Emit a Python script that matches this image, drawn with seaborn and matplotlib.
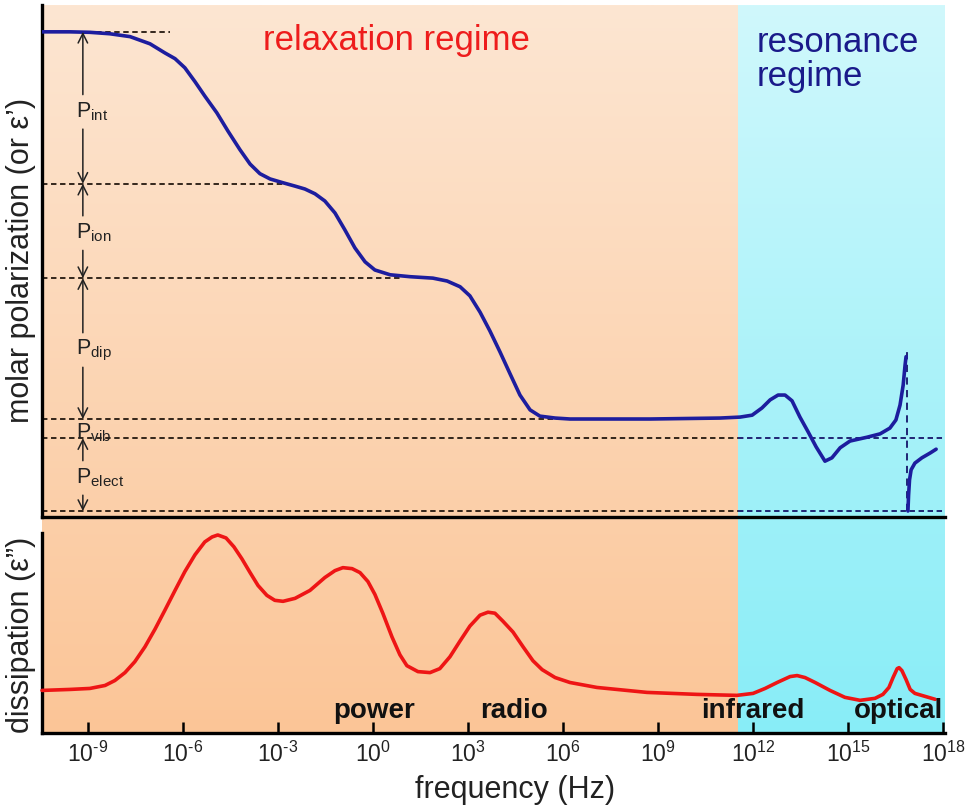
import numpy as np
import matplotlib
matplotlib.use("Agg")
import matplotlib.pyplot as plt
from matplotlib.colors import to_rgb
import seaborn as sns

# polarization curve, x = log10(frequency / Hz), y = polarization (0..100)
pol_logf = [-10.45, -9.57, -8.94, -8.31, -7.67, -7.04, -6.57, -6.25, -5.94, -5.62,
            -5.31, -4.93, -4.58, -4.20, -3.88, -3.57, -3.25, -2.84, -2.46, -2.15,
            -1.83, -1.52, -1.20, -0.89, -0.57, -0.25, 0.06, 0.54, 1.17, 1.89,
            2.34, 2.75, 3.06, 3.38, 3.69, 4.01, 4.33, 4.64, 4.96, 5.27,
            5.75, 6.22, 8.75, 10.96, 11.59, 11.97, 12.28, 12.54, 12.79, 13.01,
            13.23, 13.48, 13.74, 13.99, 14.27, 14.49, 14.75, 15.06, 15.60, 16.01,
            16.32, 16.51, 16.64, 16.74, 16.80, 16.83]
pol_val = [100.0, 100.0, 99.9, 99.6, 99.0, 97.5, 95.6, 94.4, 92.5, 89.6,
           86.6, 83.1, 79.3, 75.4, 72.4, 70.4, 69.3, 68.5, 67.8, 67.2,
           66.2, 64.7, 62.2, 58.7, 54.9, 52.0, 50.3, 49.3, 48.9, 48.6,
           48.0, 46.8, 44.9, 41.5, 37.6, 33.2, 28.6, 24.2, 21.1, 19.8,
           19.4, 19.2, 19.2, 19.4, 19.6, 20.0, 21.5, 23.2, 24.2, 24.2,
           23.0, 19.6, 16.5, 13.4, 10.4, 11.1, 13.2, 14.6, 15.4, 16.1,
           17.3, 19.0, 22.1, 26.3, 30.5, 32.2]
# branch after the optical resonance
pol2_logf = [16.89, 16.91, 16.94, 16.99, 17.11, 17.33, 17.59, 17.78]
pol2_val = [0.0, 3.3, 6.5, 8.6, 10.0, 11.1, 12.1, 12.9]

# dissipation curve (0..100)
dis_logf = [-10.45, -9.57, -8.94, -8.46, -8.15, -7.83, -7.52, -7.20, -6.88, -6.57,
            -6.25, -5.94, -5.62, -5.31, -5.08, -4.90, -4.64, -4.39, -4.14, -3.88,
            -3.63, -3.35, -3.10, -2.84, -2.46, -1.99, -1.52, -1.20, -0.95, -0.66,
            -0.41, -0.16, 0.06, 0.31, 0.60, 0.85, 1.07, 1.42, 1.80, 2.11,
            2.43, 2.75, 3.06, 3.38, 3.63, 3.85, 4.10, 4.42, 4.74, 5.05,
            5.34, 5.75, 6.22, 7.07, 8.65, 10.23, 11.49, 12.00, 12.38, 12.76,
            13.17, 13.39, 13.64, 13.96, 14.43, 14.90, 15.38, 15.85, 16.10, 16.29,
            16.42, 16.55, 16.61, 16.70, 16.83, 16.96, 17.11, 17.43, 17.75]
dis_val = [21.5, 22.0, 22.5, 24.0, 26.5, 30.5, 36.0, 43.5, 52.5, 62.0,
           72.0, 81.5, 90.0, 96.5, 99.0, 100.0, 98.5, 94.0, 88.0, 81.0,
           74.5, 69.5, 67.0, 66.5, 68.0, 72.0, 78.5, 82.0, 83.5, 83.0,
           81.0, 76.5, 70.0, 60.5, 48.5, 39.5, 34.0, 31.0, 30.5, 32.5,
           38.5, 46.5, 54.0, 59.5, 61.0, 60.5, 56.5, 51.0, 43.5, 36.5,
           32.0, 28.0, 25.5, 23.0, 20.5, 19.5, 19.0, 20.0, 22.5, 25.5,
           28.5, 29.0, 28.0, 25.5, 21.5, 18.0, 16.5, 17.5, 19.5, 23.0,
           28.0, 32.5, 33.0, 31.5, 27.0, 22.0, 20.0, 18.5, 17.0]

# contribution levels and labels
levels = [100.0, 68.3, 48.6, 19.2, 15.2, 0.0]
level_ends = [-6.41, -2.84, 0.95, 6.22, 18.06, 18.06]
p_names = ["int", "ion", "dip", "vib", "elect"]
p_centers = [83.3, 58.0, 33.6, 16.3, 6.9]

band_names = ["power", "radio", "infrared", "optical"]
band_pos = [0.03, 4.45, 12.0, 16.58]
tick_exp = [-9, -6, -3, 0, 3, 6, 9, 12, 15, 18]

x_min, x_max, x_split = -10.45, 18.06, 11.53
orange_top, orange_bottom = "#fde6d2", "#fbc597"
cyan_top, cyan_bottom = "#d0f8fc", "#88edf7"
blue, red = "#1d1d9e", "#ee1515"

sns.set_style("white")
plt.rcParams["font.family"] = ["Liberation Sans", "DejaVu Sans"]
plt.rcParams["mathtext.fontset"] = "custom"
plt.rcParams["mathtext.rm"] = "Liberation Sans"
plt.rcParams["mathtext.it"] = "Liberation Sans:italic"
plt.rcParams["mathtext.bf"] = "Liberation Sans:bold"

fig = plt.figure(figsize=(9.8, 8.11), dpi=100)
W, H = 980.0, 811.0
bg = fig.add_axes([42 / W, (H - 733) / H, 903 / W, 728 / H], zorder=0)
ax1 = fig.add_axes([42 / W, (H - 517) / H, 903 / W, 512 / H], zorder=2)
ax2 = fig.add_axes([42 / W, (H - 733) / H, 903 / W, 200 / H], zorder=2)


def gradient(c_top, c_bot, n=256):
    t = np.linspace(0, 1, n)[:, None, None]
    a, b = np.array(to_rgb(c_top)), np.array(to_rgb(c_bot))
    return a[None, None, :] * (1 - t) + b[None, None, :] * t


bg.imshow(gradient(orange_top, orange_bottom), extent=(x_min, x_split, 0, 1),
          aspect="auto", interpolation="bilinear")
bg.imshow(gradient(cyan_top, cyan_bottom), extent=(x_split, x_max, 0, 1),
          aspect="auto", interpolation="bilinear")
bg.set_xlim(x_min, x_max)
bg.set_ylim(0, 1)
bg.axis("off")

for ax in (ax1, ax2):
    ax.patch.set_alpha(0)
    ax.set_xscale("log")
    ax.set_xlim(10.0 ** x_min, 10.0 ** x_max)
    for s in ("top", "right"):
        ax.spines[s].set_visible(False)
    for s in ("left", "bottom"):
        ax.spines[s].set_linewidth(2.4)
        ax.spines[s].set_color("black")
    ax.set_yticks([])
    ax.minorticks_off()

# --- top panel ---
ax1.set_ylim(-1.25, 105.6)
ax1.set_xticks([])
ax1.tick_params(axis="x", which="both", bottom=False, labelbottom=False)

dash = (0, (3, 2))
for lev, xe in zip(levels, level_ends):
    if xe > x_split:
        ax1.hlines(lev, 10.0 ** x_min, 10.0 ** x_split, colors="#24180f",
                   linestyles=dash, lw=1.3, zorder=1)
        ax1.hlines(lev, 10.0 ** x_split, 10.0 ** xe, colors="#15156a",
                   linestyles=dash, lw=1.3, zorder=1)
    else:
        ax1.hlines(lev, 10.0 ** x_min, 10.0 ** xe, colors="#24180f",
                   linestyles=dash, lw=1.3, zorder=1)

# vertical dashed line at the optical resonance
ax1.vlines(10.0 ** 16.86, 0, 34.2, colors="#15156a", linestyles=(0, (4, 3)),
           lw=1.3, zorder=1)

sns.lineplot(x=10.0 ** np.array(pol_logf), y=pol_val, ax=ax1, color=blue,
             lw=2.6, sort=False, estimator=None, zorder=3)
sns.lineplot(x=10.0 ** np.array(pol2_logf), y=pol2_val, ax=ax1, color=blue,
             lw=2.6, sort=False, estimator=None, zorder=3)
for ln in ax1.lines:
    ln.set_solid_joinstyle("round")
    ln.set_solid_capstyle("round")

arrow_x = 10.0 ** -9.16
label_x = 10.0 ** -9.38
gap = 3.6
for i, (name, yc) in enumerate(zip(p_names, p_centers)):
    ax1.text(label_x, yc, "P$_{\\mathrm{%s}}$" % name, fontsize=15.5,
             color="#222222", ha="left", va="center", zorder=4)
    if name == "vib":
        continue
    hi, lo = levels[i], levels[i + 1]
    if name == "elect":
        hi, lo = levels[4], levels[5]
    for end, start in ((hi, yc + gap), (lo, yc - gap)):
        ax1.annotate("", xy=(arrow_x, end), xytext=(arrow_x, start),
                     arrowprops=dict(arrowstyle="->", color="#222222", lw=1.1,
                                     shrinkA=0, shrinkB=0, mutation_scale=17))

ax1.text(10.0 ** 0.73, 96.2, "relaxation regime", color="#ee1c1c",
         fontsize=25, ha="center", va="baseline")
ax1.text(10.0 ** 12.12, 95.8, "resonance", color="#1a1a8a",
         fontsize=25, ha="left", va="baseline")
ax1.text(10.0 ** 12.12, 88.7, "regime", color="#1a1a8a",
         fontsize=25, ha="left", va="baseline")

# --- bottom panel ---
ax2.set_ylim(0, 101)
sns.lineplot(x=10.0 ** np.array(dis_logf), y=dis_val, ax=ax2, color=red,
             lw=2.6, sort=False, estimator=None, zorder=3)
ax2.lines[-1].set_clip_on(False)
ax2.lines[-1].set_solid_joinstyle("round")
ax2.set_xticks([10.0 ** e for e in tick_exp])
ax2.set_xticklabels([r"$\mathregular{10^{%s}}$" % str(e).replace("-", "\u2010")
                     for e in tick_exp])
ax2.tick_params(axis="x", which="major", direction="in", length=8, width=1.8,
                labelsize=16.5, pad=6, colors="black", labelcolor="#222222",
                bottom=True)
for name, pos in zip(band_names, band_pos):
    ax2.text(10.0 ** pos, 7.5, name, fontsize=20, fontweight="bold",
             color="#111111", ha="center", va="baseline", zorder=4)
ax2.set_xlabel("")

# axis titles
fig.text(515 / W, 1 - 790 / H, "frequency (Hz)", fontsize=22,
         ha="center", va="center", color="#222222")
fig.text(21 / W, 1 - 260 / H, "molar polarization (or ε’)", fontsize=22,
         rotation=90, ha="center", va="center", color="#222222")
fig.text(21 / W, 1 - 635 / H, "dissipation (ε”)", fontsize=22,
         rotation=90, ha="center", va="center", color="#222222")

fig.savefig("out.png", dpi=100)
